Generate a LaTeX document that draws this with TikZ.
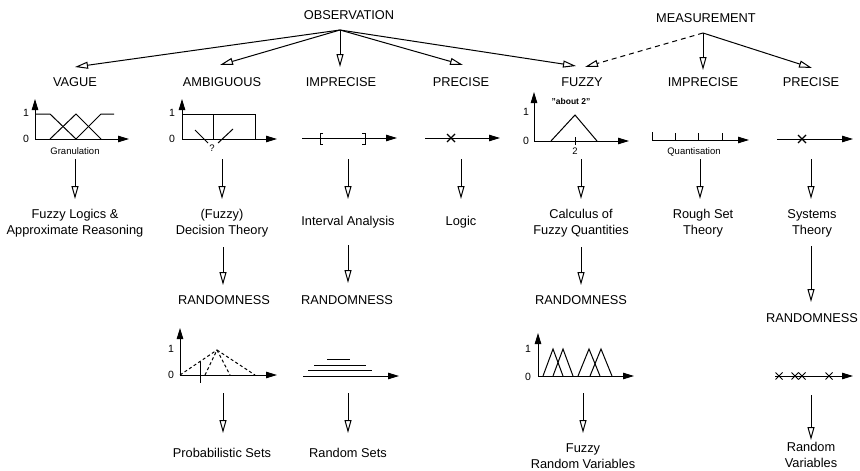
\documentclass[tikz,border=0pt]{standalone}
\usepackage{fontspec}
\setmainfont{Liberation Sans}
\usetikzlibrary{arrows.meta}
\begin{document}
\begin{tikzpicture}[x=1pt,y=-1pt,
  big/.style={font=\fontsize{12.8}{16}\selectfont, inner sep=0pt, align=center},
  small/.style={font=\fontsize{9.5}{11}\selectfont, inner sep=0pt},
  lab/.style={font=\fontsize{10.5}{12}\selectfont, inner sep=0pt},
  openarr/.style={line width=1pt, -{Triangle[open,length=13pt,width=7pt]}},
  dasharr/.style={openarr, dash pattern=on 5pt off 4pt},
  axisarr/.style={line width=1pt, -{Triangle[length=11pt,width=6.5pt]}},
  curve/.style={line width=1pt},
  thinline/.style={line width=0.7pt},
  dcurve/.style={line width=1pt, dash pattern=on 3pt off 2.5pt},
  xmark/.pic={\draw[line width=1.1pt] (-4,-4)--(4,4) (-4,4)--(4,-4);},
  smallx/.pic={\draw[line width=1pt] (-3.5,-3.5)--(3.5,3.5) (-3.5,3.5)--(3.5,-3.5);}
]
\path[use as bounding box] (0,0) rectangle (860,471);

% ---- top level
\node[big] (obs) at (349,15) {OBSERVATION};
\node[big] (meas) at (706,18) {MEASUREMENT};
\coordinate (obsroot) at (340,30);
\coordinate (measroot) at (703,33);

\node[big] (vague) at (75,82) {VAGUE};
\node[big] (ambig) at (222,82) {AMBIGUOUS};
\node[big] (imprA) at (341,82) {IMPRECISE};
\node[big] (precA) at (461,82) {PRECISE};
\node[big] (fuzzy) at (582,82) {FUZZY};
\node[big] (imprB) at (703,82) {IMPRECISE};
\node[big] (precB) at (811,82) {PRECISE};

\coordinate (tipVague) at (75,67);
\coordinate (tipAmbig) at (220,65);
\coordinate (tipImprA) at (340,67);
\coordinate (tipPrecA) at (463,65);
\coordinate (tipFuzzyA) at (576,66);
\coordinate (tipFuzzyB) at (585,67);
\coordinate (tipImprB) at (703,70);
\coordinate (tipPrecB) at (812,68);

\draw[openarr] (obsroot) -- (tipVague);
\draw[openarr] (obsroot) -- (tipAmbig);
\draw[openarr] (obsroot) -- (tipImprA);
\draw[openarr] (obsroot) -- (tipPrecA);
\draw[openarr] (obsroot) -- (tipFuzzyA);
\draw[dasharr] (measroot) -- (tipFuzzyB);
\draw[openarr] (measroot) -- (tipImprB);
\draw[openarr] (measroot) -- (tipPrecB);

% ---- graphs row 2
% vague
\draw[axisarr] (35,139) -- (35,99);
\draw[axisarr] (35,139) -- (129,139);
\node[lab] (vOne) at (26,113) {1};
\node[lab] (vZero) at (26,139) {0};
\draw[curve] (35,114)--(50,114)--(76,139);
\draw[curve] (50,139)--(76,114)--(101,139);
\draw[curve] (76,139)--(101,114)--(114,114);
\node[small] (gran) at (75,151) {Granulation};
% ambiguous
\draw[axisarr] (182,139) -- (182,99);
\draw[axisarr] (182,139) -- (277,139);
\node[lab] (aOne) at (172,113) {1};
\node[lab] (aZero) at (172,139) {0};
\draw[thinline] (182,114) rectangle (255,139);
\draw[thinline] (213,114) -- (213,139);
\draw[curve] (195,130)--(208,143);
\draw[curve] (218,143)--(233,129);
\node[small] (qm) at (212,148) {?};
% imprecise
\draw[axisarr] (302,138) -- (397,138);
\draw[curve] (323,133)--(320,133)--(320,144)--(323,144);
\draw[curve] (362,133)--(365,133)--(365,144)--(362,144);
% precise
\draw[axisarr] (425,138) -- (500,138);
\pic at (451,138) {xmark};
% fuzzy
\draw[axisarr] (534,141) -- (534,92);
\draw[axisarr] (534,141) -- (629,141);
\node[lab] (fOne) at (526,112) {1};
\node[lab] (fZero) at (526,141) {0};
\draw[curve] (551,141)--(575,115)--(597,141);
\draw[thinline] (575,137)--(575,145);
\node[small] (two) at (575,151) {2};
\node[font=\fontsize{8.5}{10}\selectfont\bfseries, inner sep=0pt] (about) at (571,101) {"about 2"};
% imprecise measurement
\draw[axisarr] (652,140) -- (749,140);
\draw[curve] (652,132)--(652,140);
\draw[curve] (675,133)--(675,140);
\draw[curve] (698,133)--(698,140);
\draw[curve] (722,133)--(722,140);
\node[small] (quant) at (694,152) {Quantisation};
% precise measurement
\draw[axisarr] (777,139) -- (853,139);
\pic at (802,139) {xmark};

% ---- arrows row 2 -> 3
\foreach \n/\x in {a/75,b/222,c/348,d/461,e/581,f/700,g/811}{
  \coordinate (s\n) at (\x,159);
  \coordinate (e\n) at (\x,199);
  \draw[openarr] (s\n) -- (e\n);
}

% ---- row 3 texts
\node[big] (fla) at (75,223) {Fuzzy Logics \&\\Approximate Reasoning};
\node[big] (dec) at (222,223) {(Fuzzy)\\Decision Theory};
\node[big] (ia) at (348,222) {Interval Analysis};
\node[big] (logic) at (461,222) {Logic};
\node[big] (cfq) at (581,223) {Calculus of\\Fuzzy Quantities};
\node[big] (rst) at (703,223) {Rough Set\\Theory};
\node[big] (sys) at (812,223) {Systems\\Theory};

% ---- arrows row 3 -> randomness
\coordinate (rb1) at (223,247); \coordinate (rb2) at (223,285);
\coordinate (rc1) at (348,245); \coordinate (rc2) at (348,283);
\coordinate (re1) at (581,247); \coordinate (re2) at (581,285);
\coordinate (rg1) at (811,246); \coordinate (rg2) at (811,302);
\draw[openarr] (rb1) -- (rb2);
\draw[openarr] (rc1) -- (rc2);
\draw[openarr] (re1) -- (re2);
\draw[openarr] (rg1) -- (rg2);

\node[big] (randB) at (224,300) {RANDOMNESS};
\node[big] (randC) at (347,300) {RANDOMNESS};
\node[big] (randE) at (581,300) {RANDOMNESS};
\node[big] (randG) at (812,318) {RANDOMNESS};

% ---- graphs row 4
% probabilistic sets
\draw[axisarr] (180,375) -- (180,328);
\draw[axisarr] (180,375) -- (277,375);
\node[lab] (pOne) at (171,349) {1};
\node[lab] (pZero) at (171,375) {0};
\draw[dcurve] (180,375)--(217,350);
\draw[dcurve] (205,375)--(217,350);
\draw[dcurve] (217,350)--(230,375);
\draw[dcurve] (217,350)--(255,375);
\draw[curve] (200,362)--(200,383);
% random sets
\draw[axisarr] (303,376) -- (399,376);
\draw[curve] (308,370)--(372,370);
\draw[curve] (314,365)--(366,365);
\draw[curve] (327,359)--(350,359);
% fuzzy random variables
\draw[axisarr] (538,376) -- (538,333);
\draw[axisarr] (538,376) -- (634,376);
\node[lab] (rOne) at (528,349) {1};
\node[lab] (rZero) at (528,377) {0};
\draw[curve] (543,376)--(553,349)--(563,376);
\draw[curve] (553,376)--(563,349)--(573,376);
\draw[curve] (578,376)--(589,349)--(600,376);
\draw[curve] (590,376)--(601,349)--(612,376);
% random variables
\draw[axisarr] (775,376) -- (853,376);
\pic at (779,376) {smallx};
\pic at (795,376) {smallx};
\pic at (802,376) {smallx};
\pic at (829,376) {smallx};

% ---- arrows row 4 -> 5
\coordinate (pb1) at (223,393); \coordinate (pb2) at (223,433);
\coordinate (pc1) at (348,393); \coordinate (pc2) at (348,433);
\coordinate (pe1) at (583,393); \coordinate (pe2) at (583,433);
\coordinate (pg1) at (811,395); \coordinate (pg2) at (811,440);
\draw[openarr] (pb1) -- (pb2);
\draw[openarr] (pc1) -- (pc2);
\draw[openarr] (pe1) -- (pe2);
\draw[openarr] (pg1) -- (pg2);

\node[big] (ps) at (222,453) {Probabilistic Sets};
\node[big] (rs) at (348,453) {Random Sets};
\node[big] (frv) at (583,456) {Fuzzy\\Random Variables};
\node[big] (rv) at (811,455) {Random\\Variables};
\end{tikzpicture}
\end{document}
